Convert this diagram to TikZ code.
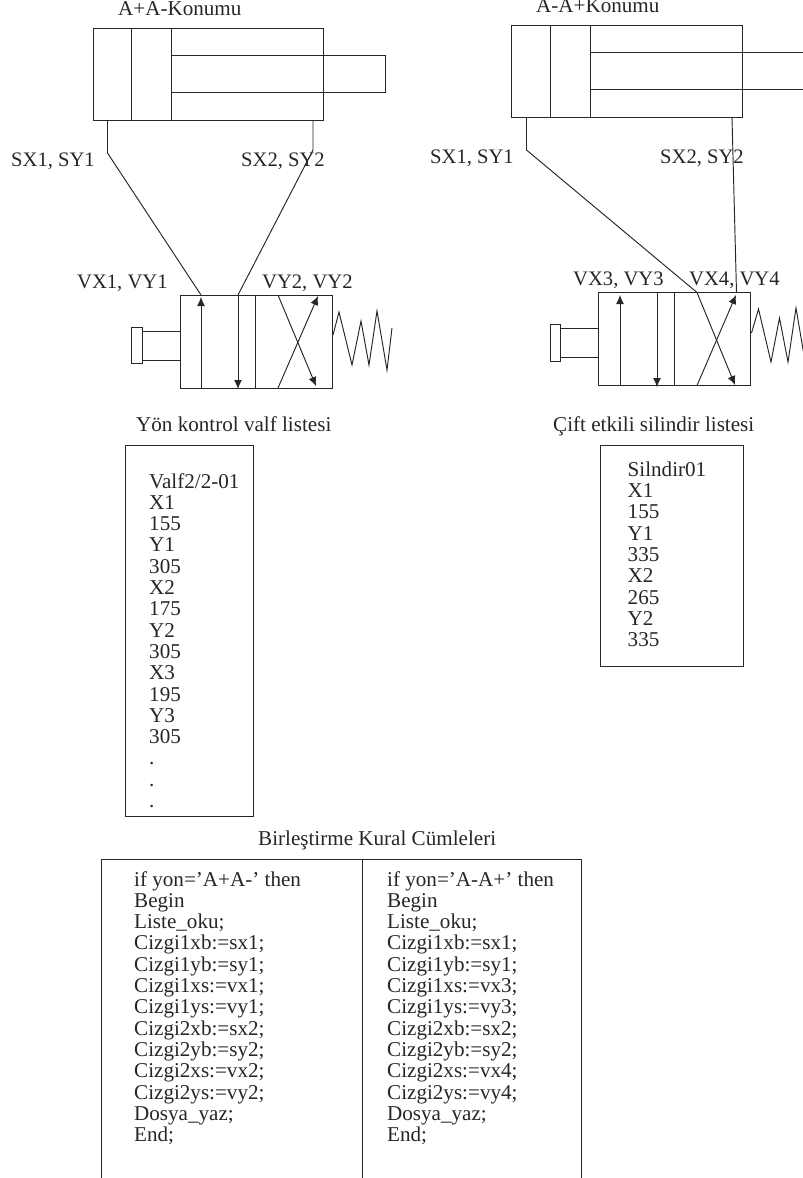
\documentclass[tikz,border=0pt]{standalone}
\usepackage{fontspec}
\setmainfont{Liberation Serif}
\usetikzlibrary{arrows.meta}
\definecolor{ink}{HTML}{262626}
\tikzset{
  ln/.style={draw=ink,line width=0.95pt},
  arr/.style={ln,-{Latex[length=9pt,width=8pt]}},
  lbl/.style={text=ink,inner sep=0pt,anchor=base west,font=\fontsize{21.1}{21.3}\selectfont},
  sml/.style={lbl,font=\fontsize{20.6}{21.3}\selectfont},
  blk/.style={text=ink,inner sep=0pt,anchor=north west,align=left,font=\fontsize{21.1}{21.3}\selectfont},
}
\begin{document}
\begin{tikzpicture}[x=1pt,y=-1pt]
\useasboundingbox (0,0) rectangle (803,1178);
\clip (0,0) rectangle (803,1178);
% left cylinder
\draw[ln] (93,28) rectangle (323.5,120);
\draw[ln] (131.5,28) -- (131.5,120);
\draw[ln] (171.5,28) -- (171.5,120);
\draw[ln] (171.5,55) rectangle (385,92);
% left valve
\draw[ln] (180,295) rectangle (332,388);
\draw[ln] (255.5,295) -- (255.5,388);
\draw[ln] (131.5,327) rectangle (142,363.5);
\draw[ln] (142,331) rectangle (180,360);
\coordinate (la) at (201,388); \coordinate (lat) at (201,297);
\coordinate (lb) at (238,295); \coordinate (lbt) at (238,389);
\draw[arr] (la) -- (lat);
\draw[arr] (lb) -- (lbt);
\draw[arr] (278,295) -- (316,386);
\draw[arr] (278,388) -- (318,296);
\draw[ln] (333,335) -- (339,312) -- (352,365) -- (361,321) -- (369,365) -- (377,311) -- (387,370) -- (392,328);
% left connectors
\coordinate (s1) at (107.5,120); \coordinate (s1b) at (107.5,153);
\coordinate (s2) at (313,120); \coordinate (s2b) at (313,150);
\draw[ln] (s1) -- (s1b) -- (201,295);
\draw[ln] (s2) -- (s2b) -- (lb);
% right cylinder
\draw[ln] (511.7,25.5) rectangle (742.3,117.5);
\draw[ln] (550.3,25.5) -- (550.3,117.5);
\draw[ln] (590.3,25.5) -- (590.3,117.5);
\draw[ln] (590.3,52.5) -- (810,52.5);
\draw[ln] (590.3,89.5) -- (810,89.5);
% right valve
\draw[ln] (598.5,292.5) rectangle (750.5,385.5);
\draw[ln] (674.5,292.5) -- (674.5,385.5);
\draw[ln] (550.5,324) rectangle (560.5,361);
\draw[ln] (560.5,328.5) rectangle (598.5,357.5);
\coordinate (ra) at (620,385.5); \coordinate (rat) at (620,295);
\coordinate (rb) at (657,293); \coordinate (rbt) at (657,387);
\coordinate (rc) at (697,292.5); \coordinate (rct) at (735,385);
\coordinate (rd) at (697,385.5); \coordinate (rdt) at (736,295);
\draw[arr] (ra) -- (rat);
\draw[arr] (rb) -- (rbt);
\draw[arr] (rc) -- (rct);
\draw[arr] (rd) -- (rdt);
\draw[ln] (751.5,333) -- (758.5,309) -- (771,362) -- (779.5,318) -- (788,362) -- (796,308) -- (806,367);
% right connectors
\coordinate (t1) at (526.5,117.5); \coordinate (t1b) at (526.5,150);
\coordinate (t2) at (732,117.5); \coordinate (t2e) at (736.5,292.5);
\draw[ln] (t1) -- (t1b) -- (rc);
\draw[ln] (t2) -- (t2e);
% labels
\node[lbl] (n1) at (118,15) {A+A-Konumu};
\node[lbl] (n2) at (536,12) {A-A+Konumu};
\node[sml] (n3) at (11,166) {SX1, SY1};
\node[sml] (n4) at (241,166) {SX2, SY2};
\node[sml] (n5) at (430,163) {SX1, SY1};
\node[sml] (n6) at (660,163) {SX2, SY2};
\node[sml] (n7) at (77,288) {VX1, VY1};
\node[sml] (n8) at (262,288) {VY2, VY2};
\node[sml] (n9) at (573,285) {VX3, VY3};
\node[sml] (n10) at (689,285) {VX4, VY4};
\node[lbl] (n11) at (136,431.5) {Yön kontrol valf listesi};
\node[lbl] (n12) at (553,431.5) {Çift etkili silindir listesi};
\node[lbl] (n13) at (258,845) {Birleştirme Kural Cümleleri};
% list boxes
\draw[ln] (125,445.7) rectangle (253.3,816.5);
\draw[ln] (600,445.7) rectangle (743.7,666.7);
\node[blk] (l1) at (149,473) {Valf2/2-01\\X1\\155\\Y1\\305\\X2\\175\\Y2\\305\\X3\\195\\Y3\\305\\.\\.\\.};
\node[blk] (l2) at (627.5,461.5) {Silndir01\\X1\\155\\Y1\\335\\X2\\265\\Y2\\335};
% rules table
\draw[ln] (101,1190) -- (101,859) -- (581,859) -- (581,1190);
\draw[ln] (362.5,859) -- (362.5,1190);
\node[blk] (r1) at (134,871) {if yon=’A+A-’ then\\Begin\\Liste\_oku;\\Cizgi1xb:=sx1;\\Cizgi1yb:=sy1;\\Cizgi1xs:=vx1;\\Cizgi1ys:=vy1;\\Cizgi2xb:=sx2;\\Cizgi2yb:=sy2;\\Cizgi2xs:=vx2;\\Cizgi2ys:=vy2;\\Dosya\_yaz;\\End;};
\node[blk] (r2) at (387,871) {if yon=’A-A+’ then\\Begin\\Liste\_oku;\\Cizgi1xb:=sx1;\\Cizgi1yb:=sy1;\\Cizgi1xs:=vx3;\\Cizgi1ys:=vy3;\\Cizgi2xb:=sx2;\\Cizgi2yb:=sy2;\\Cizgi2xs:=vx4;\\Cizgi2ys:=vy4;\\Dosya\_yaz;\\End;};
\end{tikzpicture}
\end{document}
